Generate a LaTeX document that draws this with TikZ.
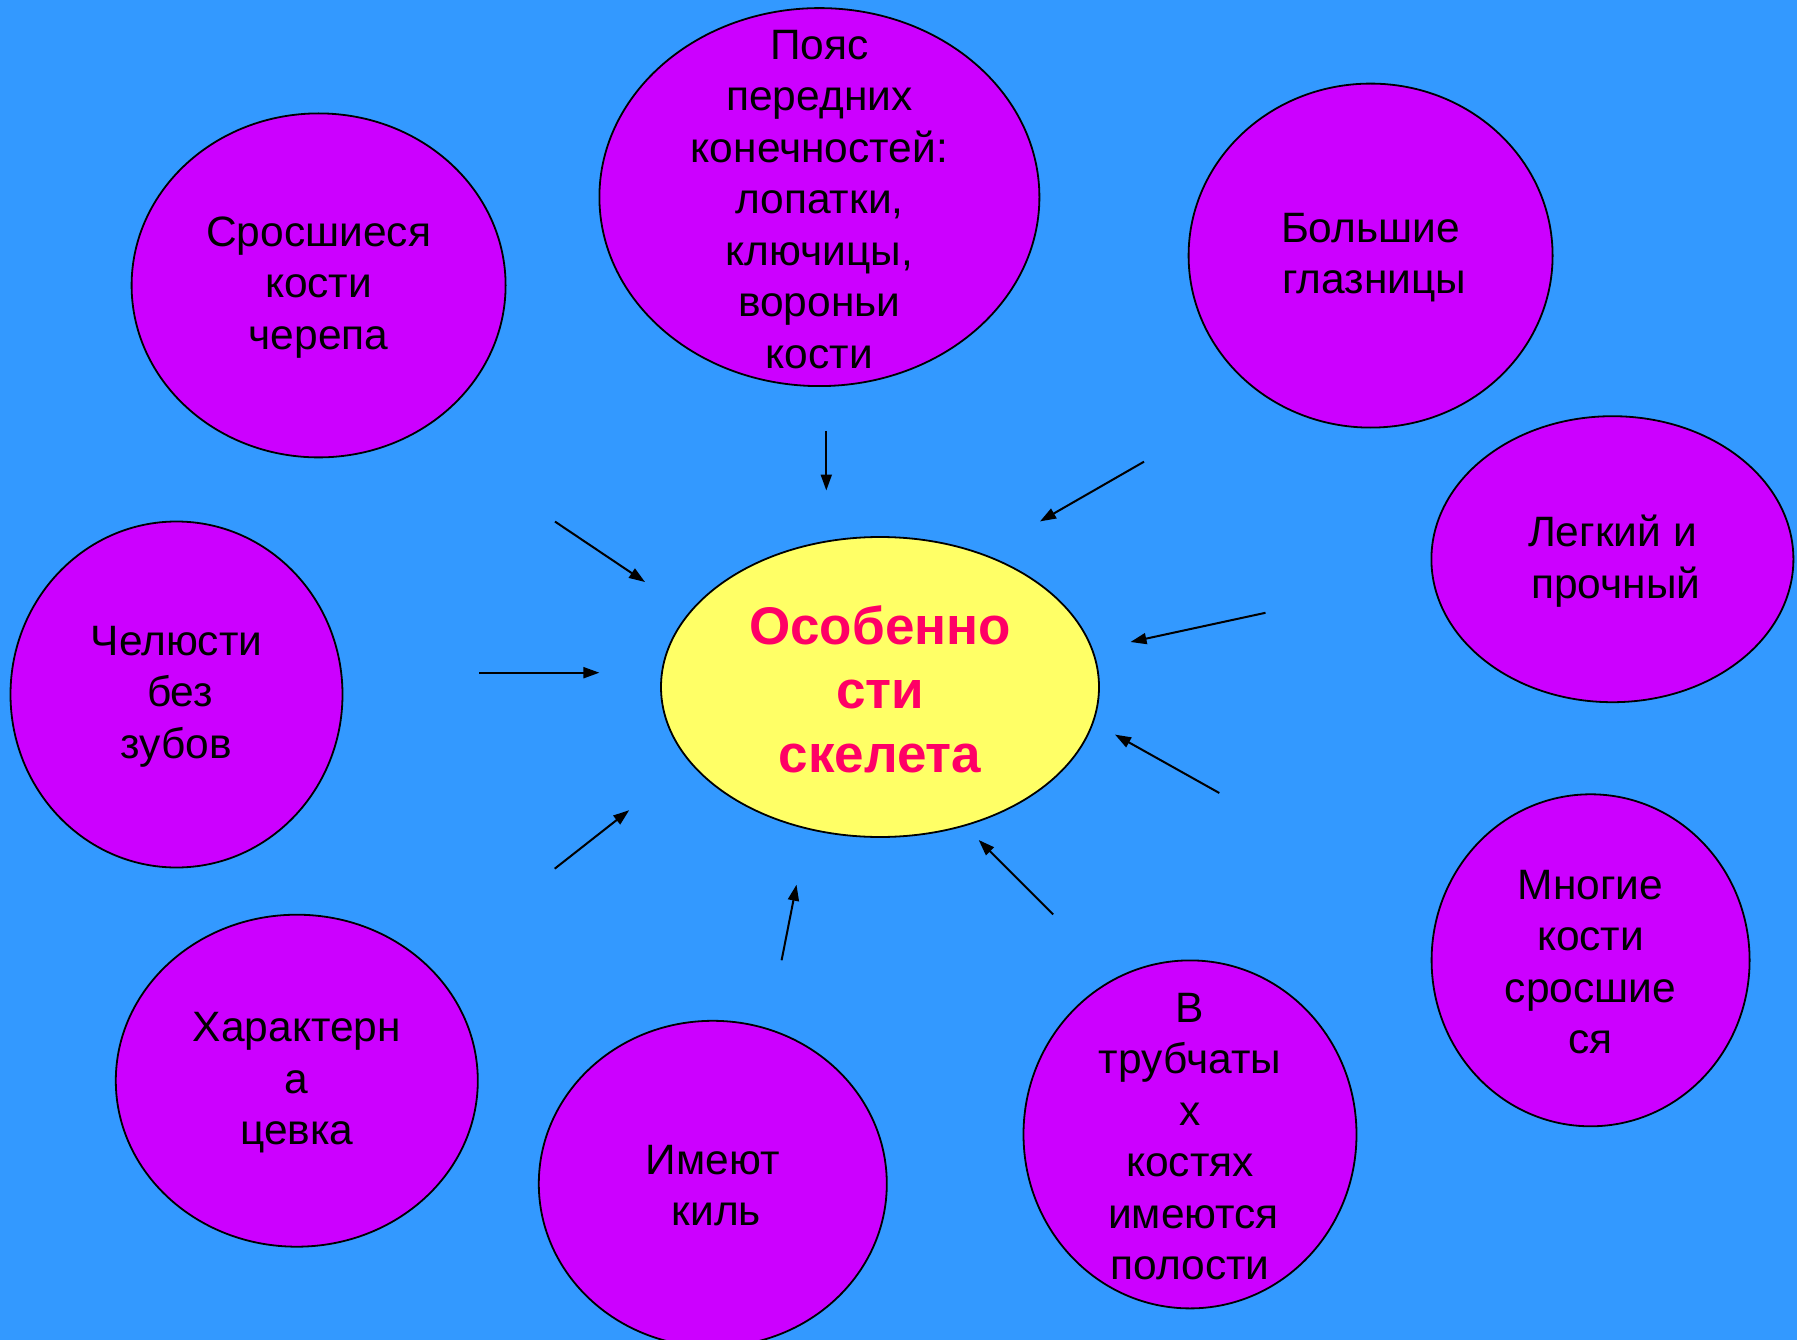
\documentclass[tikz,border=0pt]{standalone}
\usepackage{fontspec}
\setmainfont{Liberation Sans}
\usetikzlibrary{arrows.meta,shapes.geometric}
\definecolor{bg}{HTML}{3399FF}
\definecolor{blob}{HTML}{CC00FF}
\definecolor{core}{HTML}{FFFF66}
\definecolor{title}{HTML}{FF0066}
\tikzset{
  blobnode/.style={ellipse, draw=black, line width=1.8pt, fill=blob, inner sep=0pt},
  corenode/.style={ellipse, draw=black, line width=1.8pt, fill=core, inner sep=0pt},
  txt/.style={align=center, inner sep=0pt, yshift=-2pt, font=\fontsize{42.5}{51.5}\selectfont},
  titletxt/.style={align=center, inner sep=0pt, yshift=-2pt, text=title, font=\bfseries\fontsize{53}{64}\selectfont},
  arr/.style={line width=2pt, -{Triangle[length=16pt,width=11pt]}}
}
\begin{document}
\begin{tikzpicture}[x=1pt,y=-1pt]
\useasboundingbox (0,0) rectangle (1797,1340);
\clip (0,0) rectangle (1797,1340);
\fill[bg] (0,0) rectangle (1797,1340);

\node[corenode, minimum width=438, minimum height=300] (c) at (880,687) {};
\node[titletxt] (ct) at (c) {Особенно\\сти\\скелета};

\node[blobnode, minimum width=374, minimum height=344] (e1) at (318.6,285.4) {};
\node[txt] (t1) at (e1) {Сросшиеся\\кости\\черепа};

\node[blobnode, minimum width=440, minimum height=378] (e2) at (819.4,197.1) {};
\node[txt] (t2) at (e2) {Пояс\\передних\\конечностей:\\лопатки,\\ключицы,\\вороньи\\кости};

\node[blobnode, minimum width=364, minimum height=344] (e3) at (1370.6,255.6) {};
\node[txt] (t3) at (e3) {Большие\\ \,глазницы};

\node[blobnode, minimum width=362, minimum height=286] (e4) at (1612.4,559.2) {};
\node[txt] (t4) at (e4) {Легкий и\\ \,прочный};

\node[blobnode, minimum width=318, minimum height=332] (e5) at (1590.6,960.3) {};
\node[txt] (t5) at (e5) {Многие\\кости\\сросшие\\ся};

\node[blobnode, minimum width=333, minimum height=348] (e6) at (1190,1134.4) {};
\node[txt] (t6) at (e6) {В\\трубчаты\\х\\костях\\ \,имеются\\полости};

\node[blobnode, minimum width=348, minimum height=326] (e7) at (712.8,1183.8) {};
\node[txt] (t7) at (e7) {Имеют\\ \,киль};

\node[blobnode, minimum width=362, minimum height=332] (e8) at (296.8,1080.7) {};
\node[txt] (t8) at (e8) {Характерн\\а\\цевка};

\node[blobnode, minimum width=332, minimum height=346] (e9) at (176.5,694.5) {};
\node[txt] (t9) at (e9) {Челюсти\\ \,без\\зубов};

\coordinate (s1) at (826.3,430.9);  \coordinate (p1) at (826.3,490.5);
\coordinate (s2) at (1144,461.7);   \coordinate (p2) at (1040,521.4);
\coordinate (s3) at (1265.5,612.8); \coordinate (p3) at (1130.5,642);
\coordinate (s4) at (1219.3,793);   \coordinate (p4) at (1115,734.6);
\coordinate (s5) at (1053.2,914.5); \coordinate (p5) at (978.7,840);
\coordinate (s6) at (781.6,960.3);  \coordinate (p6) at (796.5,884.7);
\coordinate (s7) at (554.7,868.7);  \coordinate (p7) at (629.2,810.2);
\coordinate (s8) at (479,672.7);    \coordinate (p8) at (599.4,672.7);
\coordinate (s9) at (555,521.6);    \coordinate (p9) at (645,582);

\foreach \i in {1,...,9} {\draw[arr] (s\i) -- (p\i);}
\end{tikzpicture}
\end{document}
